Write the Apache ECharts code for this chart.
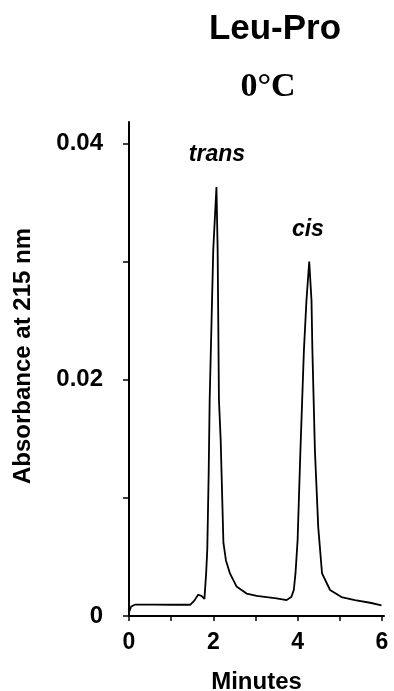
<!DOCTYPE html>
<html>
<head>
<meta charset="utf-8">
<script src="https://cdn.jsdelivr.net/npm/echarts@6/dist/echarts.min.js"></script>
<style>
  html, body { margin: 0; padding: 0; background: #fff; }
  #chart { width: 394px; height: 691px; }
</style>
</head>
<body>
<div id="chart"></div>
<script>
// chromatogram: [minutes, absorbance]
var trace = [
  [0, 0.0003], [0.05, 0.0008], [0.15, 0.00097], [0.6, 0.00097], [1.0, 0.00095],
  [1.45, 0.00095], [1.55, 0.0013], [1.64, 0.0018], [1.72, 0.0017], [1.79, 0.00145],
  [1.81, 0.0016], [1.83, 0.0036], [1.857, 0.0056], [1.89, 0.012], [1.914, 0.0183],
  [1.999, 0.031], [2.075, 0.0363], [2.103, 0.031], [2.134, 0.0183], [2.175, 0.0149],
  [2.24, 0.0062], [2.3, 0.0047], [2.395, 0.0036], [2.55, 0.0025], [2.79, 0.0019],
  [3.03, 0.0017], [3.5, 0.0015], [3.74, 0.00135], [3.85, 0.0016], [3.91, 0.0022],
  [3.95, 0.0036], [4.0, 0.0064], [4.067, 0.014], [4.15, 0.0225], [4.21, 0.0267],
  [4.276, 0.0300], [4.33, 0.0267], [4.351, 0.0225], [4.411, 0.014], [4.49, 0.0075],
  [4.58, 0.0036], [4.77, 0.0022], [5.04, 0.0016], [5.36, 0.00135], [5.75, 0.0011],
  [5.99, 0.0009]
]
var peakLabels = ['trans', 'cis']
var peakLabelPos = [[2.087, 0.039], [4.245, 0.0327]]
var xTicks = [0, 1, 2, 3, 4, 5, 6]
var xTickLabels = [0, 2, 4, 6]
var yTicks = [0, 0.01, 0.02, 0.03, 0.04]
var yTickLabels = [0, 0.02, 0.04]

var myChart = echarts.init(document.getElementById('chart'))
var sans = 'Liberation Sans'

var option = {
  animation: false,
  grid: { left: 129, right: 10, top: 122, bottom: 75, outerBoundsMode: 'none', containLabel: false },
  graphic: [
    {
      type: 'text', x: 275, y: 29,
      style: { text: 'Leu-Pro', font: 'bold 35px "Liberation Sans"', fill: '#000', textAlign: 'center', textVerticalAlign: 'middle' }
    },
    {
      type: 'text', x: 268, y: 87,
      style: { text: '0°C', font: 'bold 34px "Liberation Serif"', fill: '#000', textAlign: 'center', textVerticalAlign: 'middle' }
    }
  ],
  xAxis: {
    type: 'value',
    min: 0,
    max: 6.05,
    name: 'Minutes',
    nameLocation: 'middle',
    nameGap: 54,
    nameTextStyle: { fontFamily: sans, fontWeight: 'bold', fontSize: 24, color: '#000' },
    axisLine: { lineStyle: { color: '#000', width: 2 } },
    axisTick: { customValues: xTicks, length: 5, lineStyle: { color: '#000', width: 1.5 } },
    axisLabel: { customValues: xTickLabels, margin: 15, fontFamily: sans, fontWeight: 'bold', fontSize: 23, color: '#000' },
    splitLine: { show: false }
  },
  yAxis: {
    type: 'value',
    min: 0,
    max: 0.0418,
    name: 'Absorbance at 215 nm',
    nameLocation: 'middle',
    nameGap: 94,
    nameRotate: 90,
    nameTextStyle: { fontFamily: sans, fontWeight: 'bold', fontSize: 24, color: '#000', padding: [0, 0, 0, 26] },
    axisLine: { show: true, lineStyle: { color: '#000', width: 2 } },
    axisTick: { show: true, customValues: yTicks, length: 6, lineStyle: { color: '#000', width: 1.5 } },
    axisLabel: { customValues: yTickLabels, margin: 26, fontFamily: sans, fontWeight: 'bold', fontSize: 24, color: '#000' },
    splitLine: { show: false }
  },
  series: [
    {
      type: 'line',
      data: trace,
      showSymbol: false,
      smooth: false,
      lineStyle: { color: '#000', width: 1.8 },
      markPoint: {
        symbol: 'circle',
        symbolSize: 1,
        itemStyle: { color: 'rgba(0,0,0,0)' },
        label: { show: true, position: 'inside', fontFamily: sans, fontWeight: 'bold', fontStyle: 'italic', fontSize: 23, color: '#000', formatter: '{b}' },
        data: peakLabels.map(function(n, i) {
          return { name: n, coord: peakLabelPos[i] }
        })
      }
    }
  ]
}
myChart.setOption(option)
</script>
</body>
</html>
